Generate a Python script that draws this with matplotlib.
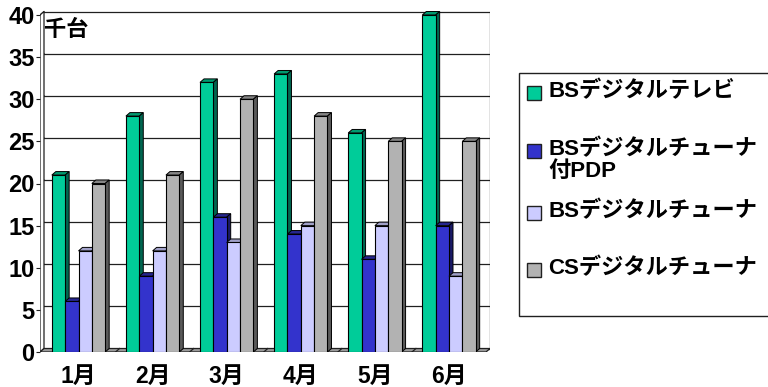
import matplotlib
matplotlib.use("Agg")
import matplotlib.pyplot as plt
from matplotlib.patches import Polygon, Rectangle
import numpy as np

categories = ['1月', '2月', '3月', '4月', '5月', '6月']
series_names = ['BSデジタルテレビ', 'BSデジタルチューナ\n付PDP', 'BSデジタルチューナ', 'CSデジタルチューナ']
bs_tv = [21, 28, 32, 33, 26, 40]
bs_tuner_pdp = [6, 9, 16, 14, 11, 15]
bs_tuner = [12, 12, 13, 15, 15, 9]
cs_tuner = [20, 21, 30, 28, 25, 25]
yticks = [0, 5, 10, 15, 20, 25, 30, 35, 40]
unit_label = '千台'

series = [bs_tv, bs_tuner_pdp, bs_tuner, cs_tuner]
front_colors = ['#00CC99', '#3333CC', '#CCCCFF', '#B2B2B2']
side_colors = ['#006650', '#1A1A66', '#8080A0', '#5A5A5A']
top_colors = ['#00996F', '#26268F', '#A0A0C8', '#858585']

FONT = ['Liberation Sans', 'Noto Sans CJK JP', 'DejaVu Sans']
plt.rcParams['font.family'] = FONT

W, H = 768, 387
fig = plt.figure(figsize=(W / 100, H / 100), dpi=100)

# plot geometry in pixels
left_px, right_px = 40, 490
bottom_px, top_px = 352, 10
px_x = 74.1            # pixels per category
px_y = 8.425           # pixels per value unit
c0_px = 78.5           # center of first category
x_left = (left_px - c0_px) / px_x
x_right = x_left + (right_px - left_px) / px_x
y_top = (bottom_px - top_px) / px_y

ax = fig.add_axes([left_px / W, (H - bottom_px) / H,
                   (right_px - left_px) / W, (bottom_px - top_px) / H])
ax.set_xlim(x_left, x_right)
ax.set_ylim(0, y_top)
for s in ax.spines.values():
    s.set_visible(False)

dx = 4.0 / px_x
dy = 3.5 / px_y
x0 = x_left
x1 = (486 - c0_px) / px_x
ymax = 40

# back wall gridlines
for v in yticks:
    ax.plot([x0 + dx, x1 + dx], [v + dy, v + dy], color='#202020', lw=0.9, zorder=1)
    ax.plot([x0, x0 + dx], [v, v + dy], color='#202020', lw=0.8, zorder=1)
# back wall right edge
ax.plot([x1 + dx, x1 + dx], [dy, ymax + dy], color='#202020', lw=0.9, zorder=1)
# left wall
ax.add_patch(Polygon([(x0, 0), (x0, ymax), (x0 + dx, ymax + dy), (x0 + dx, dy)],
                     closed=True, facecolor='white', edgecolor='#202020', lw=0.9, zorder=1))
# floor
ax.add_patch(Polygon([(x0, 0), (x1, 0), (x1 + dx, dy), (x0 + dx, dy)],
                     closed=True, facecolor='#9A9A9A', edgecolor='#202020', lw=0.9, zorder=1))
for b in np.arange(0.5, len(categories) - 0.5, 1.0):
    ax.plot([b, b + dx], [0, dy], color='#202020', lw=0.9, zorder=1)

# bars
w = 0.18
xs = np.arange(len(categories))
offsets = [-1.5 * w, -0.5 * w, 0.5 * w, 1.5 * w]
for i, vals in enumerate(series):
    z = 3 + 2 * i
    ax.bar(xs + offsets[i], vals, width=w, color=front_colors[i],
           edgecolor='black', linewidth=0.8, zorder=z + 1)
    for xc, h in zip(xs + offsets[i], vals):
        l, r = xc - w / 2, xc + w / 2
        ax.add_patch(Polygon([(l, h), (l + dx, h + dy), (r + dx, h + dy), (r, h)],
                             closed=True, facecolor=top_colors[i], edgecolor='black',
                             lw=0.7, zorder=z))
        ax.add_patch(Polygon([(r, 0), (r + dx, dy), (r + dx, h + dy), (r, h)],
                             closed=True, facecolor=side_colors[i], edgecolor='black',
                             lw=0.7, zorder=z))

# axes ticks
ax.set_yticks(yticks)
ax.set_yticklabels([str(v) for v in yticks], fontsize=17, fontweight='bold')
ax.tick_params(axis='y', length=3, width=0.8, pad=1, color='#202020')
ax.set_xticks(xs)
ax.set_xticklabels(categories, fontsize=16.5, fontweight='bold', family=FONT)
ax.tick_params(axis='x', length=0, pad=9)

ax.text(x0 + 0.06, 38.2, unit_label, fontsize=16, fontweight='bold', family=FONT,
        ha='left', va='center', zorder=20)

# legend (drawn in pixel coordinates)
lax = fig.add_axes([0, 0, 1, 1])
lax.set_xlim(0, W)
lax.set_ylim(H, 0)
lax.axis('off')
lax.patch.set_alpha(0)
lax.add_patch(Rectangle((519, 73), 400, 243, facecolor='white', edgecolor='#202020', lw=1.0))
entry_y = [93, 151, 213, 270]
for i, name in enumerate(series_names):
    ey = entry_y[i]
    lax.add_patch(Rectangle((527, ey - 7), 14, 14, facecolor=front_colors[i],
                            edgecolor='#202020', lw=1.0))
    lax.text(548, ey - 1, name, fontsize=16, fontweight='bold', family=FONT,
             ha='left', va='top' if '\n' in name else 'center',
             linespacing=1.05,
             transform=lax.transData if '\n' not in name else lax.transData)
    if '\n' in name:
        lax.texts[-1].set_y(ey - 12)
        lax.texts[-1].set_va('top')

fig.savefig('out.png', dpi=100)
